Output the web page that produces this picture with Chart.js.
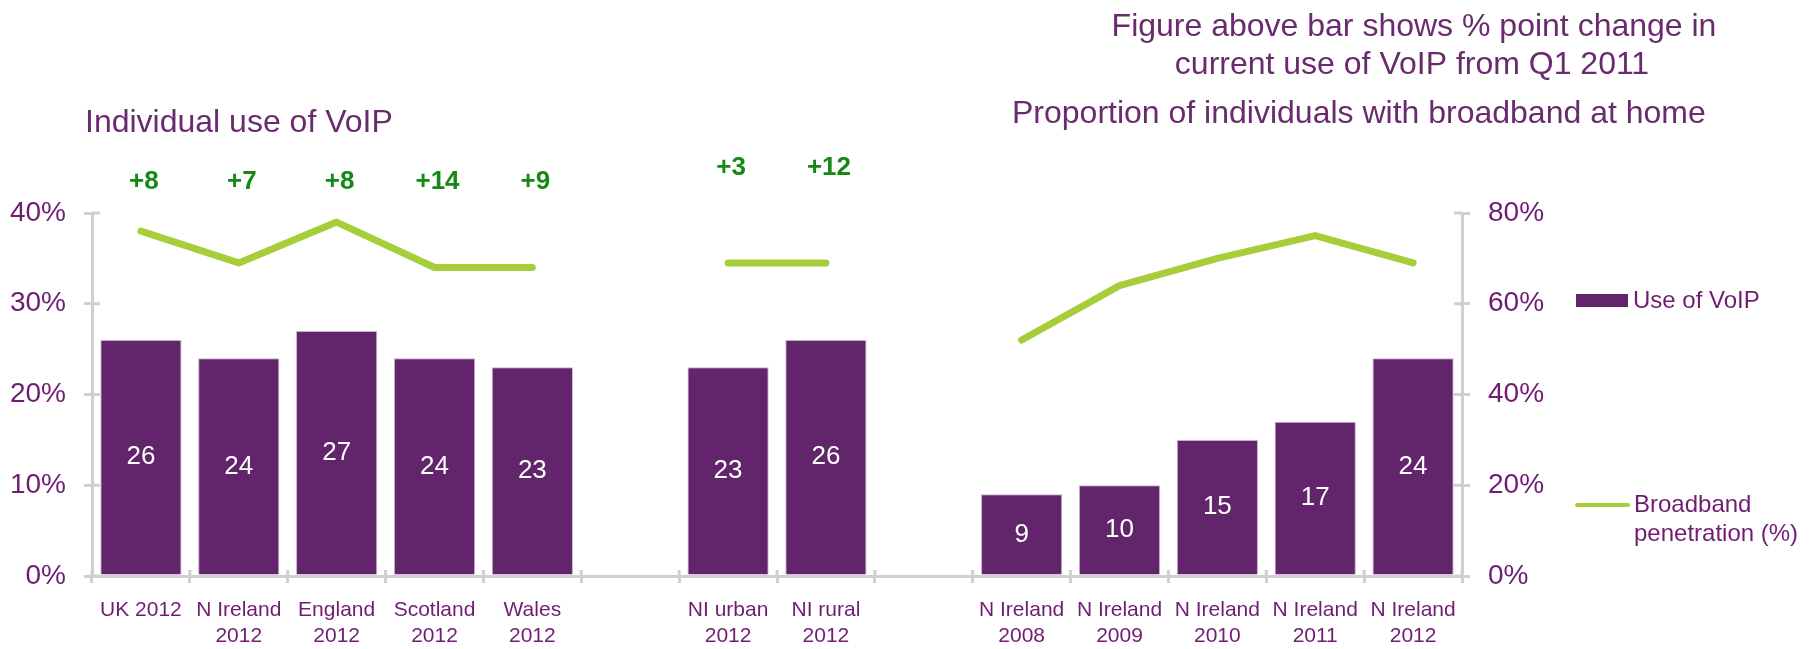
<!DOCTYPE html>
<html>
<head>
<meta charset="utf-8">
<script src="https://cdn.jsdelivr.net/npm/chart.js@4"></script>
<style>
  html, body { margin: 0; padding: 0; background: #fff; }
  #wrap { position: relative; width: 1816px; height: 649px; }
</style>
</head>
<body>
<div id="wrap"><canvas id="voipChart"></canvas></div>
<script>
  // categories (empty strings are the gaps between the three groups)
  const categories = [
    'UK 2012', ['N Ireland', '2012'], ['England', '2012'], ['Scotland', '2012'], ['Wales', '2012'],
    '',
    ['NI urban', '2012'], ['NI rural', '2012'],
    '',
    ['N Ireland', '2008'], ['N Ireland', '2009'], ['N Ireland', '2010'], ['N Ireland', '2011'], ['N Ireland', '2012']
  ];
  const voipUse = [26, 24, 27, 24, 23, null, 23, 26, null, 9, 10, 15, 17, 24];
  const broadband = [76, 69, 78, 68, 68, null, 69, 69, null, 52, 64, 70, 75, 69];
  const pointChange = ['+8', '+7', '+8', '+14', '+9', null, '+3', '+12', null, null, null, null, null, null];
  const leftTicks = [0, 10, 20, 30, 40];
  const rightTicks = [0, 20, 40, 60, 80];

  const FONT = "'Liberation Sans', Arial, sans-serif";
  const PURPLE = '#62246a';
  const TEXT = '#6a2a6e';
  const TICK = '#701c72';
  const GREEN = '#a6ce39';
  const AXIS = '#d0d0d0';

  const annotations = {
    id: 'annotations',
    beforeDatasetsDraw(chart) {
      // tick marks crossing into the plot, as in the original
      const ctx = chart.ctx;
      const { x, y, y2 } = chart.scales;
      ctx.save();
      ctx.strokeStyle = AXIS;
      ctx.lineWidth = 3;
      ctx.beginPath();
      y.ticks.forEach(t => {
        const py = y.getPixelForValue(t.value);
        ctx.moveTo(y.right, py); ctx.lineTo(y.right + 8, py);
      });
      y2.ticks.forEach(t => {
        const py = y2.getPixelForValue(t.value);
        ctx.moveTo(y2.left - 8, py); ctx.lineTo(y2.left, py);
      });
      for (let i = 0; i <= categories.length; i++) {
        const px = i < categories.length
          ? x.getPixelForValue(i) - (x.getPixelForValue(1) - x.getPixelForValue(0)) / 2
          : x.right;
        ctx.moveTo(px, x.top - 6); ctx.lineTo(px, x.top);
      }
      ctx.stroke();
      ctx.restore();
    },
    afterDatasetsDraw(chart) {
      const ctx = chart.ctx;
      const area = chart.chartArea;
      const xs = chart.scales.x;
      ctx.save();

      // values inside the bars
      const bars = chart.getDatasetMeta(1).data;
      ctx.fillStyle = '#ffffff';
      ctx.font = '26px ' + FONT;
      ctx.textAlign = 'center';
      ctx.textBaseline = 'middle';
      bars.forEach((bar, i) => {
        if (voipUse[i] == null) return;
        ctx.fillText(String(voipUse[i]), bar.x, (bar.y + bar.base) / 2);
      });

      // % point change above the bars
      ctx.fillStyle = '#158915';
      ctx.font = 'bold 26px ' + FONT;
      pointChange.forEach((t, i) => {
        if (!t) return;
        const y = area.top - (i > 5 ? 45 : 31);
        ctx.fillText(t, xs.getPixelForValue(i) + 3, y);
      });

      // headings
      ctx.fillStyle = TEXT;
      ctx.font = '32px ' + FONT;
      ctx.textBaseline = 'alphabetic';
      ctx.textAlign = 'left';
      ctx.fillText('Individual use of VoIP', 85, 132);
      ctx.fillText('Proportion of individuals with broadband at home', 1012, 123);
      ctx.textAlign = 'center';
      ctx.fillText('Figure above bar shows % point change in', 1414, 36);
      ctx.fillText('current use of VoIP from Q1 2011', 1412, 74);

      // legend
      const lineSet = chart.data.datasets[0];
      const barSet = chart.data.datasets[1];
      ctx.fillStyle = PURPLE;
      ctx.fillRect(1576, 294, 52, 13);
      ctx.strokeStyle = GREEN;
      ctx.lineWidth = 4;
      ctx.lineCap = 'round';
      ctx.beginPath();
      ctx.moveTo(1577, 505);
      ctx.lineTo(1628, 505);
      ctx.stroke();
      ctx.fillStyle = TICK;
      ctx.font = '24px ' + FONT;
      ctx.textAlign = 'left';
      ctx.textBaseline = 'middle';
      ctx.fillText(barSet.label, 1633, 301);
      const parts = lineSet.label.split('\n');
      parts.forEach((p, k) => ctx.fillText(p, 1634, 505 + k * 29));

      ctx.restore();
    }
  };

  new Chart(document.getElementById('voipChart'), {
    type: 'bar',
    data: {
      labels: categories,
      datasets: [{
        type: 'line',
        label: 'Broadband\npenetration (%)',
        data: broadband,
        yAxisID: 'y2',
        borderColor: GREEN,
        borderWidth: 7,
        borderCapStyle: 'round',
        borderJoinStyle: 'round',
        pointRadius: 0,
        spanGaps: false,
        tension: 0,
        order: 0
      }, {
        label: 'Use of VoIP',
        data: voipUse,
        yAxisID: 'y',
        backgroundColor: PURPLE,
        borderColor: '#c8b0cb',
        borderWidth: 1,
        barPercentage: 0.83,
        categoryPercentage: 1,
        order: 1
      }]
    },
    options: {
      responsive: true,
      maintainAspectRatio: false,
      animation: false,
      layout: { padding: { top: 213, left: 0, right: 0, bottom: 0 } },
      plugins: {
        legend: { display: false },
        tooltip: { enabled: false }
      },
      scales: {
        x: {
          grid: { drawOnChartArea: false, color: AXIS, lineWidth: 3, tickLength: 7 },
          border: { color: AXIS, width: 3 },
          ticks: { color: TICK, font: { family: FONT, size: 21 }, padding: 15, maxRotation: 0, autoSkip: false },
          afterFit(scale) { scale.height = 73; }
        },
        y: {
          position: 'left',
          min: 0, max: 40,
          afterBuildTicks(scale) { scale.ticks = leftTicks.map(v => ({ value: v })); },
          grid: { drawOnChartArea: false, color: AXIS, lineWidth: 3, tickLength: 8 },
          border: { color: AXIS, width: 3 },
          ticks: { color: TICK, font: { family: FONT, size: 28 }, padding: 18, callback: v => v + '%' },
          afterFit(scale) { scale.width = 92; }
        },
        y2: {
          position: 'right',
          min: 0, max: 80,
          afterBuildTicks(scale) { scale.ticks = rightTicks.map(v => ({ value: v })); },
          grid: { drawOnChartArea: false, color: AXIS, lineWidth: 3, tickLength: 8 },
          border: { color: AXIS, width: 3 },
          ticks: { color: TICK, font: { family: FONT, size: 28 }, padding: 18, callback: v => v + '%' },
          afterFit(scale) { scale.width = 354; }
        }
      }
    },
    plugins: [annotations]
  });
</script>
</body>
</html>
